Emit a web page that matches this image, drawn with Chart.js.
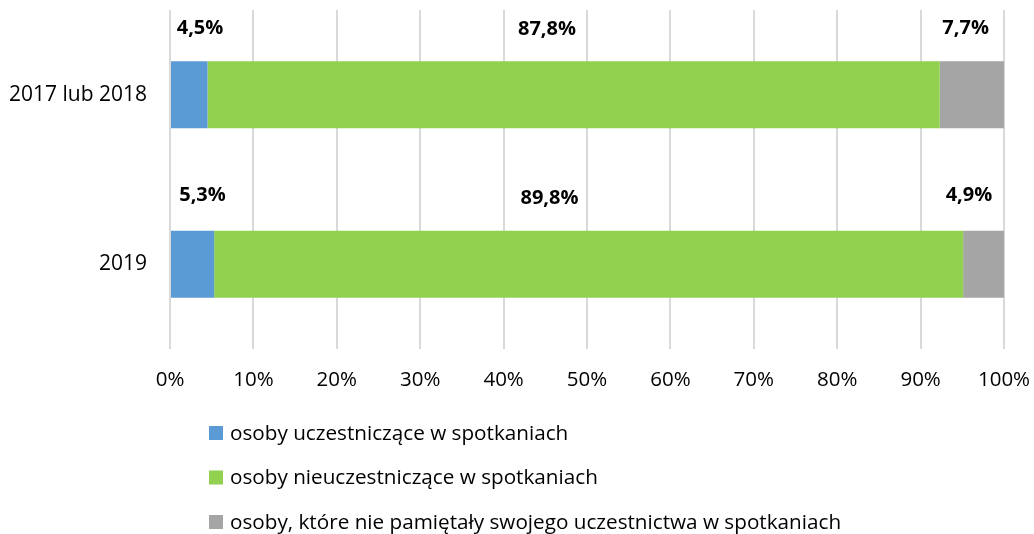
<!DOCTYPE html>
<html>
<head>
<meta charset="utf-8">
<script src="https://cdn.jsdelivr.net/npm/chart.js@4"></script>
<style>
html,body{margin:0;padding:0;background:#fff;}
#wrap{width:1034px;height:534px;}
</style>
</head>
<body>
<div id="wrap"><canvas id="c" width="1034" height="534"></canvas></div>
<script>
// ---- data ----
const categories = ['2017 lub 2018', '2019'];
const seriesNames = [
  'osoby uczestniczące w spotkaniach',
  'osoby nieuczestniczące w spotkaniach',
  'osoby, które nie pamiętały swojego uczestnictwa w spotkaniach'
];
const uczestniczace = [4.5, 5.3];
const nieuczestniczace = [87.8, 89.8];
const niePamietaly = [7.7, 4.9];
const tickValues = [0,10,20,30,40,50,60,70,80,90,100];

// label positions (in axis % units) and vertical offsets (px) — layout only
const labelPosX = [[3.6, 45.2, 95.4], [3.9, 45.5, 95.8]];
const labelDy = [[-33, -32, -33], [-35, -32, -35]];

const colors = ['#5B9BD5', '#92D050', '#A5A5A5'];
const FONT = "'Open Sans', sans-serif";

const seriesData = [uczestniczace, nieuczestniczace, niePamietaly];

const dataLabelPlugin = {
  id: 'dataLabels',
  afterDatasetsDraw(chart) {
    const ctx = chart.ctx;
    const xs = chart.scales.x;
    ctx.save();
    ctx.font = "bold 20px " + FONT;
    ctx.fillStyle = '#000';
    ctx.textAlign = 'center';
    ctx.textBaseline = 'middle';
    chart.data.datasets.forEach((ds, i) => {
      const meta = chart.getDatasetMeta(i);
      meta.data.forEach((bar, j) => {
        const top = bar.y - bar.height / 2;
        const x = xs.getPixelForValue(labelPosX[j][i]);
        const txt = ds.data[j].toFixed(1).replace('.', ',') + '%';
        ctx.fillText(txt, x, top + labelDy[j][i]);
      });
    });
    ctx.restore();
  }
};

const legendPlugin = {
  id: 'vLegend',
  afterDraw(chart) {
    const ctx = chart.ctx;
    const o = chart.options.plugins.vLegend;
    ctx.save();
    ctx.font = "20.7px " + FONT;
    ctx.textAlign = 'left';
    ctx.textBaseline = 'middle';
    chart.data.datasets.forEach((ds, i) => {
      const y = o.top + i * o.spacing;
      ctx.fillStyle = ds.backgroundColor;
      ctx.fillRect(o.left, y - o.box / 2, o.box, o.box);
      ctx.fillStyle = '#000';
      ctx.fillText(ds.label, o.left + o.box + 7, y + 1);
    });
    ctx.restore();
  }
};

new Chart(document.getElementById('c'), {
  type: 'bar',
  data: {
    labels: categories,
    datasets: seriesData.map((d, i) => ({
      label: seriesNames[i],
      data: d,
      backgroundColor: colors[i],
      borderWidth: 0,
      categoryPercentage: 1,
      barPercentage: 0.395
    }))
  },
  options: {
    indexAxis: 'y',
    responsive: false,
    animation: false,
    events: [],
    layout: { padding: { top: 10, right: 30, left: 0, bottom: 0 } },
    scales: {
      x: {
        stacked: true,
        min: 0, max: 100,
        afterBuildTicks: s => { s.ticks = tickValues.map(v => ({ value: v })); },
        afterFit: s => { s.height = 185; s.paddingLeft = 0; s.paddingRight = 0; },
        ticks: {
          callback: v => v + '%',
          font: { family: FONT, size: 20.5 },
          color: '#000',
          padding: 19,
          maxRotation: 0,
          autoSkip: false
        },
        grid: { color: '#D9D9D9', lineWidth: 2, drawTicks: false },
        border: { display: false }
      },
      y: {
        stacked: true,
        afterFit: s => { s.width = 170; s.paddingTop = 0; s.paddingBottom = 0; },
        ticks: {
          font: { family: FONT, size: 21 },
          color: '#000',
          padding: 23
        },
        grid: { display: false, drawTicks: false },
        border: { display: false }
      }
    },
    plugins: {
      legend: { display: false },
      tooltip: { enabled: false },
      vLegend: { left: 209, top: 433, spacing: 44.5, box: 14 }
    }
  },
  plugins: [dataLabelPlugin, legendPlugin]
});
</script>
</body>
</html>
